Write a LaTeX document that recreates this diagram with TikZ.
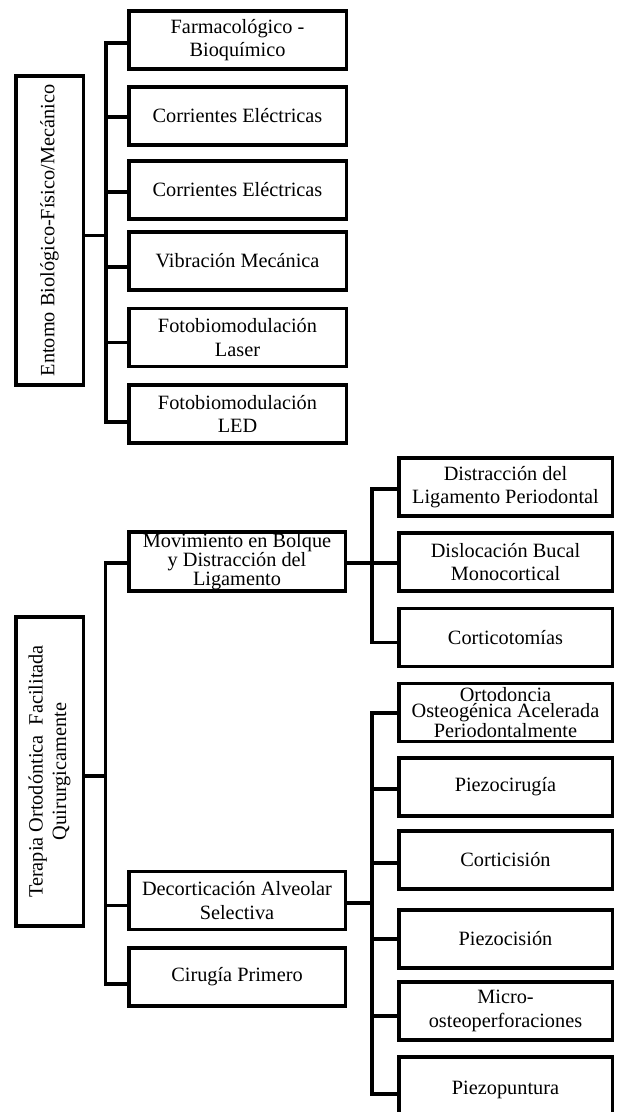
\documentclass[tikz,border=0pt]{standalone}
\usepackage{fontspec}
\setmainfont{Liberation Serif}
\begin{document}
\begin{tikzpicture}[x=1pt,y=-1pt,
  box/.style={draw, line width=3.5pt, fill=white, inner sep=1pt, align=center, font=\fontsize{20.3}{23.5}\selectfont},
  tight/.style={font=\fontsize{20.3}{16.5}\selectfont},
  topbox/.style={box, minimum width=217.5pt, minimum height=58pt},
  leftbox/.style={box, minimum width=216.5pt, minimum height=58pt},
  rightbox/.style={box, minimum width=213.5pt, minimum height=58pt},
  sidebox/.style={box, rotate=90, minimum width=309pt, minimum height=67.5pt},
  conn/.style={line width=3.5pt, line join=miter}]
\useasboundingbox (0,0) rectangle (617,1112);
\clip (0,0) rectangle (617,1112);

% ---------- top group ----------
\coordinate (t1) at (106,0);
\node[sidebox] (ent) at (49.5,230.5) {Entomo Biológico-Físico/Mecánico};
\node[topbox] (f1) at (237.5,40) {Farmacológico -\\Bioquímico};
\node[topbox] (f2) at (237.5,116) {Corrientes Eléctricas};
\node[topbox] (f3) at (237.5,190) {Corrientes Eléctricas};
\node[topbox] (f4) at (237.5,261) {Vibración Mecánica};
\node[topbox] (f5) at (237.5,337.5) {Fotobiomodulación\\Laser};
\node[topbox] (f6) at (237.5,414) {Fotobiomodulación\\LED};

\draw[conn] ([yshift=-3pt]f1.west) -| ([yshift=-8pt]f6.west -| t1) -- ([yshift=-8pt]f6.west);
\draw[conn] ([yshift=-1pt]f2.west) -- ([yshift=-1pt]f2.west -| t1);
\draw[conn] ([yshift=-2pt]f3.west) -- ([yshift=-2pt]f3.west -| t1);
\draw[conn] ([yshift=-6pt]f4.west) -- ([yshift=-6pt]f4.west -| t1);
\draw[conn] ([yshift=-5pt]f5.west) -- ([yshift=-5pt]f5.west -| t1);
\draw[conn] ([yshift=-5pt]ent.south) -- ([yshift=-5pt]ent.south -| t1);

% ---------- bottom group ----------
\coordinate (t2) at (105.5,0);
\coordinate (t3) at (372,0);
\node[sidebox] (ter) at (49.5,771.5) {Terapia Ortodóntica\ \ Facilitada\\Quirurgicamente};
\node[leftbox, tight] (mov) at (237,561.5) {Movimiento en Bolque\\y Distracción del\\Ligamento};
\node[leftbox] (dec) at (237,900.5) {Decorticación Alveolar\\Selectiva};
\node[leftbox] (cir) at (237,977) {Cirugía Primero};

\node[rightbox] (d1) at (505.5,487) {Distracción del\\Ligamento Periodontal};
\node[rightbox] (d2) at (505.5,562) {Dislocación Bucal\\Monocortical};
\node[rightbox] (d3) at (505.5,637.5) {Corticotomías};

\node[rightbox, tight] (r1) at (505.5,712.5) {Ortodoncia\\Osteogénica Acelerada\\Periodontalmente};
\node[rightbox] (r2) at (505.5,787) {Piezocirugía};
\node[rightbox] (r3) at (505.5,860) {Corticisión};
\node[rightbox] (r4) at (505.5,939) {Piezocisión};
\node[rightbox] (r5) at (505.5,1011) {Micro-\\osteoperforaciones};
\node[rightbox, minimum height=66pt] (r6) at (505.5,1090) {Piezopuntura};

% left trunk
\draw[conn] ([yshift=-1.5pt]mov.west) -| ([yshift=-7pt]cir.west -| t2) -- ([yshift=-7pt]cir.west);
\draw[conn] ([yshift=-5pt]dec.west) -- ([yshift=-5pt]dec.west -| t2);
\draw[conn] ([yshift=-4.5pt]ter.south) -- ([yshift=-4.5pt]ter.south -| t2);

% right trunk 1
\draw[conn] ([yshift=-2pt]d1.west) -| ([yshift=-5pt]d3.west -| t3) -- ([yshift=-5pt]d3.west);
\draw[conn] ([yshift=-1.5pt]mov.east) -- ([yshift=-1.5pt]mov.east -| d2.west);

% right trunk 2
\draw[conn] ([yshift=-0.5pt]r1.west) -| ([yshift=-4pt]r6.west -| t3) -- ([yshift=-4pt]r6.west);
\draw[conn] ([yshift=-2pt]r2.west) -- ([yshift=-2pt]r2.west -| t3);
\draw[conn] ([yshift=-3pt]r3.west) -- ([yshift=-3pt]r3.west -| t3);
\draw[conn] (r4.west) -- (r4.west -| t3);
\draw[conn] ([yshift=-5pt]r5.west) -- ([yshift=-5pt]r5.west -| t3);
\draw[conn] ([yshift=-2.5pt]dec.east) -- ([yshift=-2.5pt]dec.east -| t3);
\end{tikzpicture}
\end{document}
